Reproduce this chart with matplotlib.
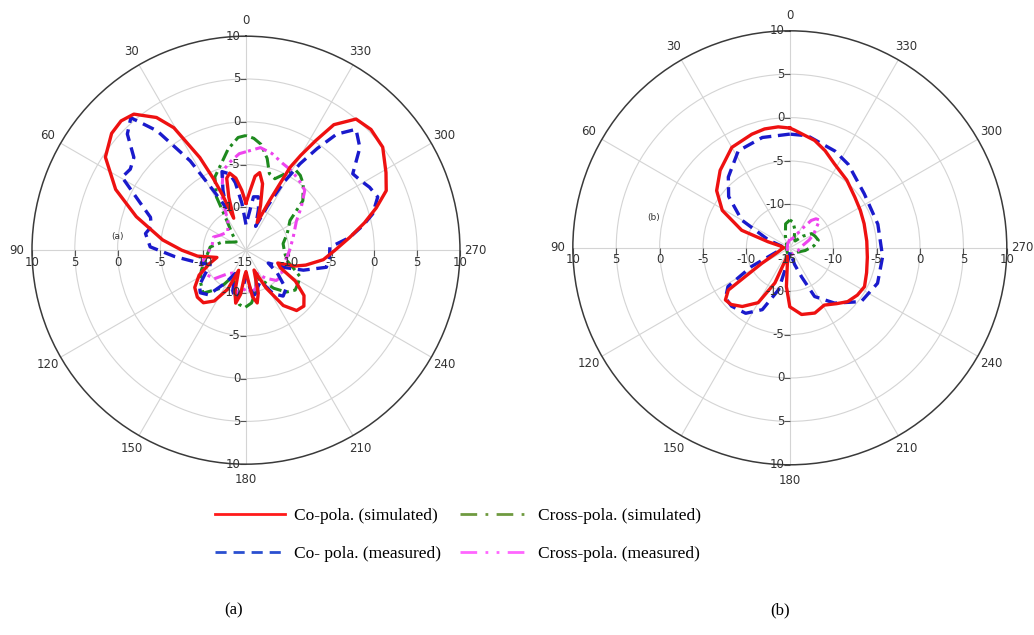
import numpy as np
import matplotlib
matplotlib.use('Agg')
import matplotlib.pyplot as plt
from matplotlib.lines import Line2D

# ---- (a) pattern, angle in deg / gain in dB ----
a_co_sim_ang = [0, 4, 8, 12, 15, 18, 21, 23, 24.5, 26.5, 30.5, 34, 39.5, 44, 49, 56.5, 65, 73, 83, 90,
                97, 104, 110, 118, 126, 134, 141, 148, 155, 160, 165, 169, 173, 177, 180, 184, 188, 192,
                196, 202, 208, 214, 220, 226, 232, 238, 243, 248, 252, 256, 263, 270, 277, 283, 288, 293,
                299, 307, 314, 320, 325, 327.5, 330, 332, 334.5, 338, 342, 346, 350, 353, 356, 360]
a_co_sim_db = [-9.5, -8, -6.5, -5.8, -6.3, -8.5, -11, -8, -5.8, -2.9, 1.6, 3.7, 5.6, 6.0, 5.8, 4.7, 1.8, -1.6, -5.2, -7.5,
               -9.3, -11.5, -10.5, -8.8, -7.6, -7.1, -7.1, -8, -10, -12.5, -10, -8.7, -9.8, -12, -12.5, -11.5, -9.5, -8.7,
               -9.8, -12.5, -10, -7.2, -5.8, -5.6, -6.4, -8.2, -10.5, -11, -9, -7.8, -5.9, -4.6, -2.8, -0.8, 1.0, 2.8,
               3.7, 5.0, 5.3, 5.0, 2.9, 0.2, -2.2, -4.05, -8.5, -11.5, -9.5, -7, -5.8, -6.3, -8, -9.5]

a_co_meas_ang = [0, 5, 9, 12, 17, 21, 25, 28.6, 32, 36.7, 41, 45.6, 50.4, 55, 59.5, 66, 71, 76, 80.6, 88,
                 95, 104, 112, 120, 127, 133, 140, 148, 155, 162, 168, 175, 180, 186, 192, 198, 205, 212,
                 219, 226, 234, 240, 246, 250.8, 258, 265, 272, 277, 282, 286, 292, 297, 301, 305.6, 312,
                 317.7, 322, 325, 328, 331, 334, 338, 343, 347, 352, 356, 360]
a_co_meas_db = [-12, -9.5, -7, -5.9, -5.4, -7.5, -9.5, -7.1, -2.7, 2.4, 5.5, 4.4, 2.0, 1.5, 1.8, -1.5, -3.2, -3.6, -3.1, -3.8,
                -6.6, -9.1, -10.5, -9.5, -8.2, -7.7, -8.2, -10.5, -12, -10, -9, -10.5, -12, -10.5, -9.2, -10.5, -11, -9,
                -8.1, -8.5, -10.5, -12, -10, -7.9, -5.4, -5.2, -5.2, -2.8, -1.0, 0.4, 1.6, 1.2, 0.7, 0.34, 2.9,
                4.1, 2.2, -0.5, -3.1, -6, -9.3, -12, -10, -8.6, -8.7, -11, -12]

a_x_sim_ang = [0, 4, 10, 16, 23, 29, 33, 40, 50, 62, 72, 85, 95, 105, 114, 123, 135, 145, 153, 160, 167, 173,
               179, 186, 193, 200, 208, 216, 224, 231, 238, 244, 250, 256, 268, 280, 292, 304, 311, 319, 324,
               328, 333, 338, 343, 347, 352, 356, 360]
a_x_sim_db = [-1.6, -1.8, -3.0, -4.5, -5.7, -7.9, -10.9, -12.5, -13.5, -13, -12, -10.8, -10.5, -10, -9.3, -8.6, -7.9, -9.5, -11.5, -11, -9.5, -8.6,
              -8.3, -8.8, -10, -11.5, -11, -9.5, -8.2, -7.6, -7.8, -8.0, -9.2, -10.1, -10.5, -10.6, -9.8, -8.8, -6.2, -4.8, -4.2,
              -4.0, -5.0, -6.0, -5.65, -4.0, -2.5, -1.9, -1.6]

a_x_meas_ang = [0, 4, 10, 16, 24, 32, 45, 60, 68, 80, 95, 105, 113, 122, 132, 142, 152, 162, 170, 176, 182, 188,
                195, 205, 215, 225, 235, 245, 258, 270, 285, 300, 308, 315.5, 322, 330, 337, 345, 352, 360]
a_x_meas_db = [-3.5, -3.7, -4.5, -5.3, -8, -11, -12, -11.5, -10.9, -11, -10.5, -9.7, -9.2, -9.6, -10, -11.5, -12, -10.5, -9.8, -10.3, -10.6, -9.9,
               -10.5, -12, -11, -10, -9.8, -10.5, -10.2, -9.9, -9.3, -8.2, -6.8, -5.2, -4.8, -4.3, -4.0, -3.3, -2.9, -3.5]

# ---- (b) pattern ----
b_co_sim_ang = [0, 5.5, 12, 18.5, 30, 42, 52, 61, 70, 74.5, 80, 90, 100, 110, 119, 124.5, 129, 134, 141, 150,
                157, 163, 169, 175, 180, 190, 201, 211, 220, 227, 235, 242.5, 252, 263, 275, 288, 298, 308,
                320, 332, 340, 347, 357.6, 360]
b_co_sim_db = [-1.2, -1.0, -1.0, -1.2, -1.64, -3.0, -4.3, -6.1, -9.1, -12.4, -14, -14.3, -14, -13.5, -11.3, -6.4, -5.45, -5.6, -6.3, -7.7,
               -10.6, -14, -13.6, -10.5, -8.2, -7.2, -6.95, -7.3, -6.6, -5.9, -5.5, -5.3, -5.7, -6.0, -6.1, -6.0, -5.8, -5.5,
               -4.8, -4.05, -3.1, -2.3, -1.44, -1.2]

b_co_meas_ang = [0, 14, 28, 41, 50, 60, 70, 78, 90, 100, 110, 116, 122, 128, 135, 146, 156, 165, 172, 185, 196,
                 202, 207, 219, 233, 248, 264.5, 285, 306, 325, 335, 351, 360]
b_co_meas_db = [-1.9, -1.9, -2.35, -4.2, -5.8, -8.6, -12.4, -14, -14.2, -14, -13, -10.1, -6.6, -5.6, -5.5, -5.9, -7.2, -10, -13.5, -14.5, -13,
                -11.4, -8.7, -6.8, -4.7, -4.1, -4.26, -4.5, -4.4, -3.26, -2.7, -1.93, -1.9]

b_x_sim_ang = [0, 10, 20, 35, 60, 90, 120, 150, 180, 210, 240, 260, 275, 285, 295, 303, 312, 322, 335, 345, 353, 360]
b_x_sim_db = [-11.8, -12.2, -13.5, -14.3, -14.6, -14.5, -14.6, -14.4, -14, -14.3, -14, -13.2, -12.2, -11.6, -11.8, -12, -13, -14, -13.8, -12.8, -12, -11.8]

b_x_meas_ang = [0, 30, 90, 150, 200, 250, 280, 292, 300, 306, 313, 318, 322, 328, 336, 350, 360]
b_x_meas_db = [-14, -14.5, -14.7, -14.5, -14.2, -14, -13.5, -12.6, -11.8, -11.3, -10.3, -10.5, -11, -12.5, -13.6, -14, -14]

r_ticks = [-10, -5, 0, 5, 10]
theta_labels = list(range(0, 360, 30))

legend_labels = ['Co-pola. (simulated)', 'Co- pola. (measured)',
                 'Cross-pola. (simulated)', 'Cross-pola. (measured)']

RED = '#ee1111'
BLUE = '#1a1acc'
GREEN = '#1e8a1e'
MAGENTA = '#ee44ee'
TXT = '#333333'


def style_polar(ax):
    ax.set_theta_zero_location('N')
    ax.set_theta_direction(1)
    ax.set_ylim(-15, 10)
    ax.set_yticks([-10, -5, 0, 5])
    ax.set_yticklabels([])
    ax.set_xticks(np.deg2rad(theta_labels))
    ax.set_xticklabels([str(t) for t in theta_labels])
    ax.grid(True, color='#d4d4d4', lw=0.8)
    ax.spines['polar'].set_color('#3a3a3a')
    ax.spines['polar'].set_linewidth(1.1)
    ax.tick_params(axis='x', direction='out', length=4, width=0.8, color='#3a3a3a',
                   labelsize=8.5, labelcolor=TXT, pad=0)
    # radial labels along the vertical and horizontal axes
    for th in (0, np.pi):
        for r in r_ticks:
            ax.plot([th], [r], marker=0, ms=4, mew=0.8, color='#555555', clip_on=False)
            ax.annotate(str(r), xy=(th, r), xytext=(-4, 0), textcoords='offset points',
                        ha='right', va='center', fontsize=8.5, color=TXT)
    for th in (np.pi / 2, 3 * np.pi / 2):
        for r in r_ticks:
            ax.plot([th], [r], marker=3, ms=4, mew=0.8, color='#555555', clip_on=False)
            ax.annotate(str(r), xy=(th, r), xytext=(0, -4), textcoords='offset points',
                        ha='center', va='top', fontsize=8.5, color=TXT)
    ax.annotate('-15', xy=(0, -15), xytext=(-2, -4), textcoords='offset points',
                ha='center', va='top', fontsize=8.5, color=TXT)


def draw(ax, series):
    for ang, db, kw in series:
        ax.plot(np.deg2rad(ang), db, **kw)


st_red = dict(color=RED, lw=2.4, ls='-')
st_blue = dict(color=BLUE, lw=2.4, dashes=(3.6, 2.0))
st_green = dict(color=GREEN, lw=2.2, dashes=(4, 1.5, 1, 1.5))
st_mag = dict(color=MAGENTA, lw=2.2, dashes=(4, 1.5, 1, 1.5, 1, 1.5))

fig = plt.figure(figsize=(10.34, 6.35), dpi=100)
ax_a = fig.add_axes([0.0309, 0.269, 0.414, 0.674], projection='polar')
ax_b = fig.add_axes([0.554, 0.268, 0.4197, 0.6835], projection='polar')

for ax in (ax_a, ax_b):
    style_polar(ax)

draw(ax_a, [(a_x_sim_ang, a_x_sim_db, st_green),
            (a_x_meas_ang, a_x_meas_db, st_mag),
            (a_co_meas_ang, a_co_meas_db, st_blue),
            (a_co_sim_ang, a_co_sim_db, st_red)])
draw(ax_b, [(b_x_sim_ang, b_x_sim_db, st_green),
            (b_x_meas_ang, b_x_meas_db, st_mag),
            (b_co_meas_ang, b_co_meas_db, st_blue),
            (b_co_sim_ang, b_co_sim_db, st_red)])

ax_a.text(0.2, 0.533, '(a)', transform=ax_a.transAxes, fontsize=6.5, color=TXT, ha='center', va='center')
ax_b.text(0.187, 0.569, '(b)', transform=ax_b.transAxes, fontsize=6.5, color=TXT, ha='center', va='center')

# legend
handles = [Line2D([], [], color='#ff1a1a', lw=2),
           Line2D([], [], color='#2a4fd0', lw=2, dashes=(4, 2.5)),
           Line2D([], [], color='#6f9a40', lw=2, dashes=(6, 3, 1, 3)),
           Line2D([], [], color='#ff66ff', lw=2, dashes=(6, 3, 1, 3, 1, 3))]
fig.legend(handles, legend_labels, ncol=2, loc='upper center', bbox_to_anchor=(0.443, 0.225),
           frameon=False, handlelength=4.0, handletextpad=0.5, columnspacing=1.1,
           labelspacing=1.25, prop={'family': 'Liberation Serif', 'size': 12.5})

fig.text(234 / 1034, 1 - 610 / 635, '(a)', ha='center', va='center', family='Liberation Serif', fontsize=12)
fig.text(780 / 1034, 1 - 610 / 635, '(b)', ha='center', va='center', family='Liberation Serif', fontsize=12)

fig.savefig('out.png', dpi=100)
